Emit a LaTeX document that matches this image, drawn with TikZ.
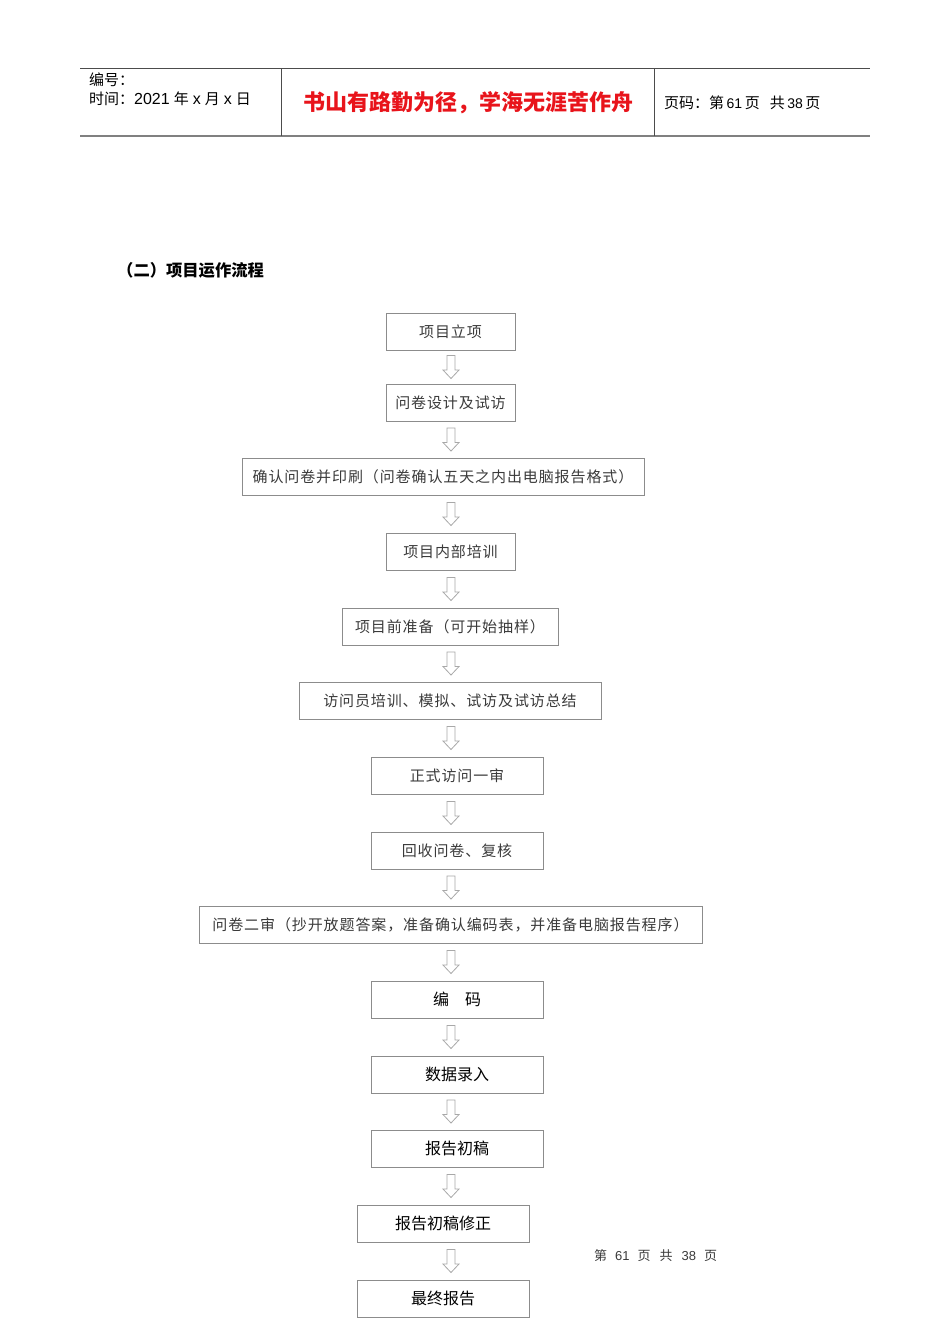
\documentclass[tikz,border=0pt]{standalone}
\usepackage{fontspec}
\usetikzlibrary{calc}
\newfontfamily\cjk{Noto Sans CJK SC}
\newfontfamily\cjkwide[LetterSpace=6]{Noto Sans CJK SC}
\newfontfamily\latinsans{Liberation Sans}
\definecolor{boxline}{HTML}{8C8C8C}
\definecolor{arrline}{HTML}{A8A8A8}
\definecolor{softtext}{HTML}{3A3A3A}
\definecolor{titlered}{HTML}{E8141B}
\tikzset{
  flowbox/.style={draw=boxline, line width=0.8pt, rectangle, inner sep=0pt, minimum height=37pt, font=\cjkwide\fontsize{15}{18}\selectfont, text=softtext},
  sansbox/.style={flowbox, font=\cjk\fontsize{16}{19}\selectfont, text=black},
  harrow/.pic={\draw[arrline, line width=0.8pt, line join=miter] (-4,-11.5) -- (4,-11.5) -- (4,3) -- (8,3) -- (0,11.5) -- (-8,3) -- (-4,3) -- cycle;},
  hdrline/.style={draw=black!70, line width=0.8pt},
  hdrtext/.style={anchor=west, inner sep=0pt, font=\cjk\fontsize{15}{18}\selectfont}
}
\newcommand{\flowarrow}[2]{%
  \path ($(#1.south)!0.5!(#2.north)$) coordinate (tmpm);
  \pic at (tmpm -| xref) {harrow};}
\newcommand{\hnum}[1]{{\latinsans\fontsize{16}{18}\selectfont #1}}
\begin{document}
\begin{tikzpicture}[x=1pt, y=-1pt]
\useasboundingbox (0,0) rectangle (950,1344);
\coordinate (xref) at (451,0);
% header
\coordinate (hTL) at (80,68);
\coordinate (hTR) at (870,68);
\coordinate (hBL) at (80,136);
\coordinate (hBR) at (870,136);
\draw[hdrline] (hTL) -- (hTR);
\draw[draw=black!50, line width=1.6pt] (hBL) -- (hBR);
\draw[hdrline] (281,68) coordinate (v1t) -- (281,136) coordinate (v1b);
\draw[hdrline] (654,68) coordinate (v2t) -- (654,136) coordinate (v2b);
\node[hdrtext] (hno) at (89,80) {编号：};
\node[hdrtext] (htime) at (89,99) {时间：\hnum{2021}\hspace{4pt}年\hspace{4pt}\hnum{x}\hspace{4pt}月\hspace{4pt}\hnum{x}\hspace{4pt}日};
\node[inner sep=0pt, font=\cjk\bfseries\fontsize{22}{25}\selectfont, text=titlered] (htitle) at (468,103) {书山有路勤为径，学海无涯苦作舟};
\node[hdrtext] (hpage) at (664,103) {页码：第\hspace{2.5pt}{\latinsans\fontsize{14}{16}\selectfont 61}\hspace{2.5pt}页\hspace{10pt}共\hspace{2.5pt}{\latinsans\fontsize{14}{16}\selectfont 38}\hspace{2.5pt}页};
% section heading
\node[anchor=west, inner sep=0pt, font=\cjk\bfseries\fontsize{16.3}{19}\selectfont] (sec) at (117,270) {（二）项目运作流程};
% flow boxes
\node[flowbox, minimum width=129pt] (b1) at (450.5,331.5) {项目立项};
\node[flowbox, minimum width=129pt] (b2) at (450.5,402.5) {问卷设计及试访};
\node[flowbox, minimum width=402pt] (b3) at (443,476.5) {确认问卷并印刷（问卷确认五天之内出电脑报告格式）};
\node[flowbox, minimum width=129pt] (b4) at (450.5,551.5) {项目内部培训};
\node[flowbox, minimum width=216pt] (b5) at (450,626.5) {项目前准备（可开始抽样）};
\node[flowbox, minimum width=302pt] (b6) at (450,700.5) {访问员培训、模拟、试访及试访总结};
\node[flowbox, minimum width=172pt] (b7) at (457,775.5) {正式访问一审};
\node[flowbox, minimum width=172pt] (b8) at (457,850.5) {回收问卷、复核};
\node[flowbox, minimum width=503pt] (b9) at (450.5,924.5) {问卷二审（抄开放题答案，准备确认编码表，并准备电脑报告程序）};
\node[sansbox, minimum width=172pt] (b10) at (457,999.5) {编　码};
\node[sansbox, minimum width=172pt] (b11) at (457,1074.5) {数据录入};
\node[sansbox, minimum width=172pt] (b12) at (457,1148.5) {报告初稿};
\node[sansbox, minimum width=172pt] (b13) at (443,1223.5) {报告初稿修正};
\node[sansbox, minimum width=172pt] (b14) at (443,1298.5) {最终报告};
% arrows
\flowarrow{b1}{b2}
\flowarrow{b2}{b3}
\flowarrow{b3}{b4}
\flowarrow{b4}{b5}
\flowarrow{b5}{b6}
\flowarrow{b6}{b7}
\flowarrow{b7}{b8}
\flowarrow{b8}{b9}
\flowarrow{b9}{b10}
\flowarrow{b10}{b11}
\flowarrow{b11}{b12}
\flowarrow{b12}{b13}
\flowarrow{b13}{b14}
% footer
\node[anchor=west, inner sep=0pt, font=\cjk\fontsize{13}{15}\selectfont, text=softtext] (foot) at (594,1256) {第\hspace{8pt}{\latinsans 61}\hspace{8pt}页\hspace{9pt}共\hspace{9pt}{\latinsans 38}\hspace{8pt}页};
\end{tikzpicture}
\end{document}
